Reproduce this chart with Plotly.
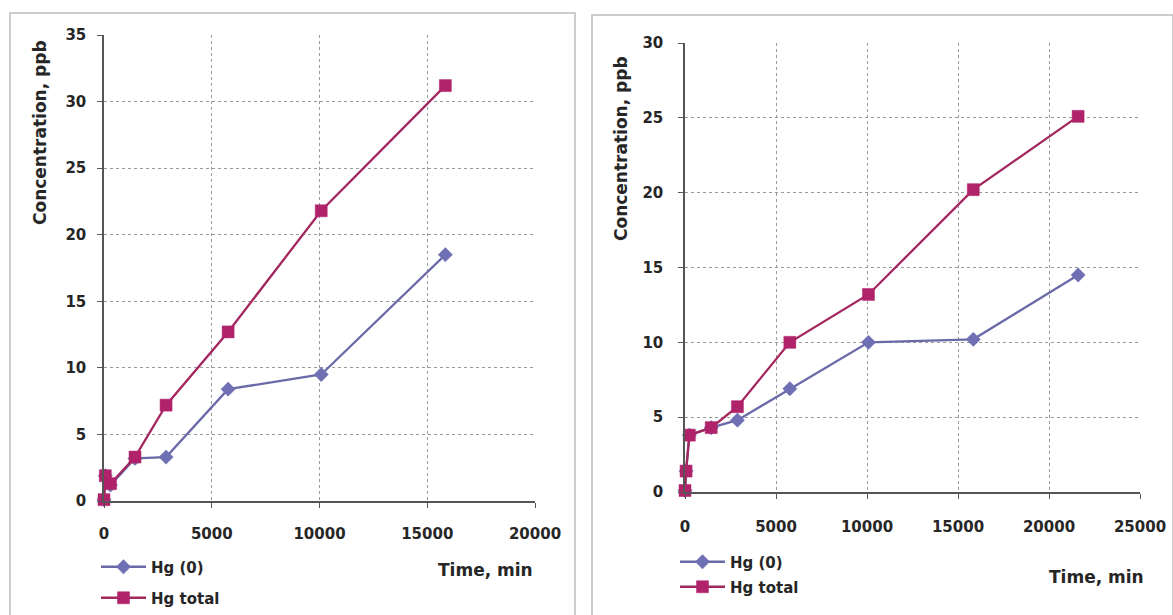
import plotly.graph_objects as go

# ---------------- data ----------------
left_time = [0, 60, 300, 1440, 2880, 5760, 10080, 15840]
left_hg0 = [0.1, 1.9, 1.2, 3.2, 3.3, 8.4, 9.5, 18.5]
left_hgtot = [0.1, 1.9, 1.3, 3.3, 7.2, 12.7, 21.8, 31.2]

right_time = [0, 60, 240, 1440, 2880, 5760, 10080, 15840, 21600]
right_hg0 = [0.1, 1.4, 3.8, 4.3, 4.8, 6.9, 10.0, 10.2, 14.5]
right_hgtot = [0.1, 1.4, 3.8, 4.3, 5.7, 10.0, 13.2, 20.2, 25.1]

left_xticks = [0, 5000, 10000, 15000, 20000]
left_yticks = [0, 5, 10, 15, 20, 25, 30, 35]
right_xticks = [0, 5000, 10000, 15000, 20000, 25000]
right_yticks = [0, 5, 10, 15, 20, 25, 30]

series_names = ["Hg (0)", "Hg total"]
x_title = "Time, min"
y_title = "Concentration, ppb"

W, H = 1173, 615
FONT = "DejaVu Sans"
TXT = "#262626"
C0_LINE, C0_MARK = "#6a6aa8", "#6f70b4"
C1_LINE, C1_MARK = "#a3275e", "#b0236a"
GRID = "#9a9a9a"

fig = go.Figure()


def add_series(x, y, name, xa, ya, legend, line_c, mark_c, symbol, size):
    fig.add_trace(go.Scatter(
        x=x, y=y, name=name, mode="lines+markers",
        xaxis=xa, yaxis=ya, legend=legend, cliponaxis=False, showlegend=True,
        line=dict(color=line_c, width=2.3),
        marker=dict(symbol=symbol, size=size, color=mark_c,
                    line=dict(color=mark_c, width=0.5)),
    ))


add_series(left_time, left_hg0, series_names[0], "x", "y", "legend",
           C0_LINE, C0_MARK, "diamond", 11)
add_series(left_time, left_hgtot, series_names[1], "x", "y", "legend2",
           C1_LINE, C1_MARK, "square", 12)
add_series(right_time, right_hg0, series_names[0], "x2", "y2", "legend3",
           C0_LINE, C0_MARK, "diamond", 11)
add_series(right_time, right_hgtot, series_names[1], "x2", "y2", "legend4",
           C1_LINE, C1_MARK, "square", 12)


def px_x(p):
    return p / W


def px_y(p):
    return 1 - p / H


axis_common = dict(
    showline=True, linecolor="#555555", linewidth=1.5,
    showgrid=True, gridcolor=GRID, gridwidth=1, griddash="3px,3px",
    zeroline=False, ticks="outside", ticklen=5, tickcolor="#555555",
    tickformat="d", automargin=False,
    tickfont=dict(family=FONT, size=15, color=TXT, weight="bold"),
)

fig.update_layout(
    width=W, height=H, margin=dict(l=0, r=0, t=0, b=0, autoexpand=False),
    paper_bgcolor="white", plot_bgcolor="white", showlegend=True,
    font=dict(family=FONT, size=13, color=TXT),
    xaxis=dict(axis_common, domain=[px_x(104), px_x(535)], range=[0, 20000],
               tickvals=left_xticks, anchor="y", ticklabelstandoff=13),
    yaxis=dict(axis_common, domain=[px_y(501), px_y(35)], range=[0, 35],
               tickvals=left_yticks, anchor="x", ticklabelstandoff=8),
    xaxis2=dict(axis_common, domain=[px_x(685), px_x(1140)], range=[0, 25000],
                tickvals=right_xticks, anchor="y2", ticklabelstandoff=15),
    yaxis2=dict(axis_common, domain=[px_y(492), px_y(43)], range=[0, 30],
                tickvals=right_yticks, anchor="x2", ticklabelstandoff=12),
)

leg_common = dict(bgcolor="rgba(0,0,0,0)",
                  font=dict(family=FONT, size=15, color=TXT, weight="bold"),
                  xanchor="left", yanchor="middle", itemwidth=45, visible=True)
fig.update_layout(
    legend=dict(leg_common, x=px_x(96), y=px_y(567)),
    legend2=dict(leg_common, x=px_x(96), y=px_y(598)),
    legend3=dict(leg_common, x=px_x(675), y=px_y(562)),
    legend4=dict(leg_common, x=px_x(675), y=px_y(587)),
)

annots = [
    dict(text="<b>%s</b>" % x_title, x=px_x(485), y=px_y(570)),
    dict(text="<b>%s</b>" % x_title, x=px_x(1096), y=px_y(577)),
    dict(text="<b>%s</b>" % y_title, x=px_x(40), y=px_y(133), textangle=-90),
    dict(text="<b>%s</b>" % y_title, x=px_x(621), y=px_y(149), textangle=-90),
]
for a in annots:
    fig.add_annotation(xref="paper", yref="paper", showarrow=False,
                       xanchor="center", yanchor="middle",
                       font=dict(family=FONT, size=17, color=TXT), **a)


# panel borders (open at the bottom, like the cropped reference)
def open_box(x0, x1, ytop):
    return "M %f,0 L %f,%f L %f,%f L %f,0" % (x0, x0, ytop, x1, ytop, x1)


fig.add_shape(type="path", xref="paper", yref="paper",
              path=open_box(px_x(10), px_x(575), px_y(13)),
              line=dict(color="#bdbdbd", width=1.5), layer="below")
fig.add_shape(type="path", xref="paper", yref="paper",
              path=open_box(px_x(592), 1.0, px_y(15)),
              line=dict(color="#bdbdbd", width=1.5), layer="below")

fig.write_html("out.html",
               post_script="document.body.style.margin='0';document.body.style.overflow='hidden';")
